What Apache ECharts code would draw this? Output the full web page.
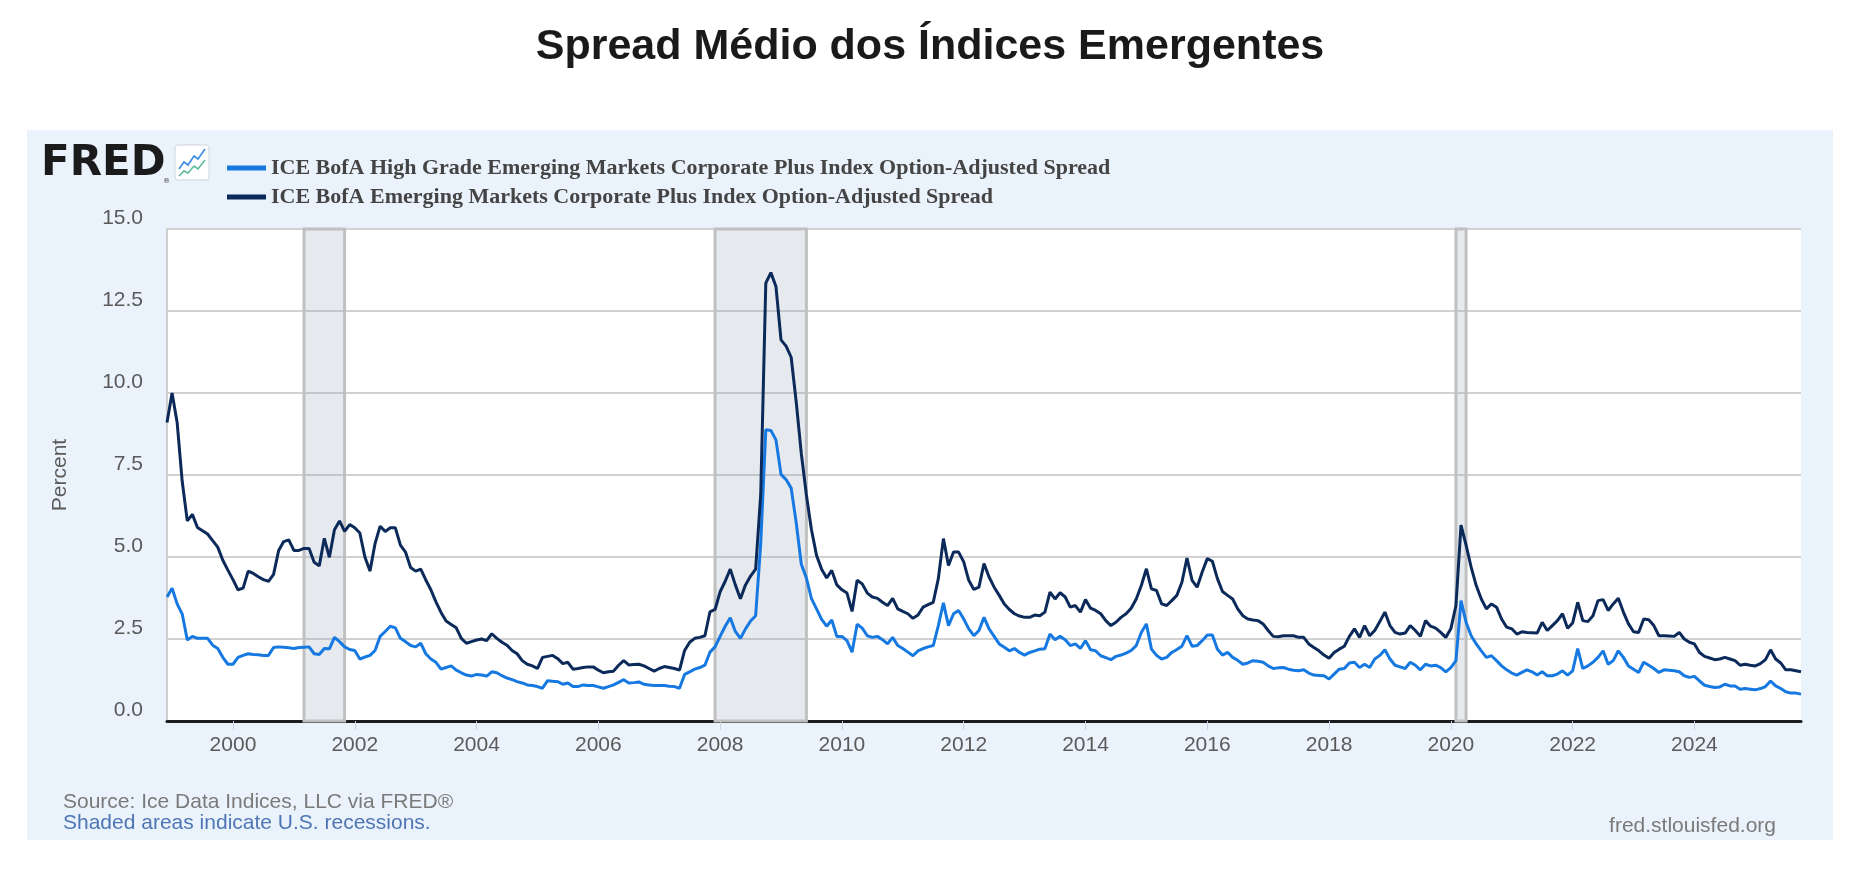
<!DOCTYPE html>
<html>
<head>
<meta charset="utf-8">
<title>Spread Médio dos Índices Emergentes</title>
<script src="https://cdn.jsdelivr.net/npm/echarts@6/dist/echarts.min.js"></script>
<style>
    html, body { margin: 0; padding: 0; background: #fff; }
    #chart { width: 1860px; height: 870px; }
</style>
</head>
<body>
<div id="chart"></div>
<script>
// monthly series, first point = Dec 1998
const startYear = 1998;
const startMonth = 12;

// ICE BofA High Grade Emerging Markets Corporate Plus Index OAS
const hgSpread = [
    3.78,
    4.05, 3.57, 3.26, 2.47, 2.58, 2.52, 2.52, 2.52, 2.31, 2.21, 1.94, 1.73,  // 1999
    1.73, 1.94, 2.0, 2.05, 2.03, 2.02, 2.0, 2.0, 2.24, 2.26, 2.25, 2.23,     // 2000
    2.21, 2.24, 2.25, 2.26, 2.05, 2.03, 2.21, 2.2, 2.55, 2.42, 2.26, 2.18,   // 2001
    2.15, 1.89, 1.95, 2.0, 2.15, 2.58, 2.73, 2.89, 2.84, 2.52, 2.42, 2.3,    // 2002
    2.26, 2.37, 2.05, 1.89, 1.79, 1.58, 1.63, 1.68, 1.55, 1.47, 1.4, 1.37,   // 2003
    1.42, 1.4, 1.37, 1.5, 1.47, 1.38, 1.31, 1.26, 1.2, 1.16, 1.1, 1.08,      // 2004
    1.05, 1.0, 1.23, 1.21, 1.2, 1.12, 1.16, 1.05, 1.05, 1.1, 1.08, 1.08,     // 2005
    1.04, 1.0, 1.05, 1.1, 1.18, 1.26, 1.16, 1.17, 1.19, 1.12, 1.1, 1.08,     // 2006
    1.08, 1.08, 1.06, 1.05, 1.0, 1.42, 1.5, 1.58, 1.63, 1.7, 2.1, 2.26,      // 2007
    2.58, 2.89, 3.15, 2.73, 2.52, 2.81, 3.05, 3.21, 5.41, 8.88, 8.86, 8.57,  // 2008
    7.52, 7.36, 7.1, 6.04, 4.78, 4.36, 3.73, 3.42, 3.1, 2.89, 3.08, 2.58,    // 2009
    2.58, 2.45, 2.1, 2.95, 2.83, 2.6, 2.55, 2.58, 2.48, 2.35, 2.55, 2.3,     // 2010
    2.21, 2.1, 1.99, 2.14, 2.21, 2.26, 2.3, 2.91, 3.6, 2.91, 3.27, 3.37,     // 2011
    3.11, 2.81, 2.6, 2.76, 3.16, 2.81, 2.58, 2.35, 2.25, 2.14, 2.21, 2.09,   // 2012
    2.01, 2.09, 2.14, 2.19, 2.2, 2.65, 2.48, 2.58, 2.48, 2.3, 2.35, 2.21,    // 2013
    2.45, 2.17, 2.14, 1.99, 1.93, 1.87, 1.97, 2.01, 2.07, 2.15, 2.3, 2.7,    // 2014
    2.96, 2.19, 2.0, 1.89, 1.94, 2.09, 2.18, 2.28, 2.6, 2.28, 2.3, 2.45,     // 2015
    2.62, 2.62, 2.19, 2.01, 2.09, 1.94, 1.85, 1.73, 1.77, 1.84, 1.82, 1.79,  // 2016
    1.68, 1.6, 1.62, 1.63, 1.58, 1.55, 1.53, 1.56, 1.46, 1.4, 1.39, 1.38,    // 2017
    1.28, 1.43, 1.58, 1.6, 1.77, 1.79, 1.63, 1.73, 1.63, 1.89, 2.0, 2.17,    // 2018
    1.89, 1.7, 1.65, 1.6, 1.79, 1.7, 1.56, 1.73, 1.68, 1.7, 1.63, 1.5,       // 2019
    1.63, 1.84, 3.67, 3.01, 2.6, 2.35, 2.14, 1.94, 1.99, 1.84, 1.68, 1.56,   // 2020
    1.46, 1.4, 1.48, 1.56, 1.5, 1.4, 1.5, 1.38, 1.38, 1.43, 1.53, 1.4,       // 2021
    1.53, 2.21, 1.6, 1.68, 1.79, 1.94, 2.14, 1.73, 1.84, 2.14, 1.94, 1.68,   // 2022
    1.58, 1.48, 1.79, 1.7, 1.6, 1.48, 1.56, 1.55, 1.53, 1.5, 1.38, 1.33,     // 2023
    1.36, 1.22, 1.09, 1.05, 1.02, 1.04, 1.12, 1.07, 1.07, 0.97, 0.99, 0.97,  // 2024
    0.95, 0.99, 1.05, 1.22, 1.07, 0.99, 0.89, 0.85, 0.85, 0.82               // 2025
];

// ICE BofA Emerging Markets Corporate Plus Index OAS
const emSpread = [
    9.1,
    10.0, 9.1, 7.3, 6.1, 6.3, 5.9, 5.8, 5.7, 5.5, 5.3, 4.9, 4.6,                 // 1999
    4.31, 4.0, 4.05, 4.57, 4.5, 4.4, 4.31, 4.26, 4.47, 5.2, 5.47, 5.52,          // 2000
    5.2, 5.2, 5.26, 5.26, 4.84, 4.73, 5.57, 4.99, 5.83, 6.1, 5.78, 5.99,         // 2001
    5.89, 5.73, 5.0, 4.57, 5.41, 5.94, 5.78, 5.89, 5.89, 5.36, 5.15, 4.68,       // 2002
    4.57, 4.63, 4.3, 4.0, 3.63, 3.31, 3.05, 2.94, 2.84, 2.52, 2.37, 2.42,        // 2003
    2.47, 2.5, 2.45, 2.66, 2.52, 2.4, 2.31, 2.15, 2.05, 1.84, 1.73, 1.68,        // 2004
    1.6, 1.94, 1.97, 2.0, 1.9, 1.75, 1.79, 1.58, 1.6, 1.63, 1.65, 1.65,          // 2005
    1.55, 1.47, 1.5, 1.52, 1.7, 1.84, 1.71, 1.72, 1.73, 1.68, 1.6, 1.52,         // 2006
    1.6, 1.66, 1.63, 1.6, 1.55, 2.15, 2.4, 2.52, 2.55, 2.6, 3.33, 3.4,           // 2007
    3.94, 4.26, 4.63, 4.15, 3.73, 4.15, 4.42, 4.63, 6.9, 13.35, 13.67, 13.25,    // 2008
    11.62, 11.43, 11.09, 9.72, 8.15, 6.89, 5.83, 5.05, 4.63, 4.36, 4.59, 4.15,   // 2009
    4.0, 3.9, 3.34, 4.29, 4.18, 3.9, 3.78, 3.74, 3.62, 3.52, 3.74, 3.42,         // 2010
    3.34, 3.27, 3.13, 3.23, 3.47, 3.55, 3.62, 4.34, 5.56, 4.74, 5.15, 5.15,      // 2011
    4.85, 4.29, 4.01, 4.08, 4.8, 4.39, 4.08, 3.83, 3.57, 3.4, 3.27, 3.2,         // 2012
    3.16, 3.16, 3.23, 3.21, 3.32, 3.93, 3.72, 3.91, 3.78, 3.47, 3.52, 3.32,      // 2013
    3.7, 3.44, 3.37, 3.27, 3.06, 2.91, 3.01, 3.16, 3.27, 3.44, 3.72, 4.13,       // 2014
    4.64, 4.03, 3.98, 3.57, 3.52, 3.67, 3.83, 4.23, 4.97, 4.29, 4.08, 4.54,      // 2015
    4.95, 4.87, 4.34, 3.95, 3.83, 3.72, 3.42, 3.21, 3.11, 3.08, 3.06, 2.96,      // 2016
    2.76, 2.58, 2.57, 2.6, 2.6, 2.6, 2.55, 2.55, 2.35, 2.24, 2.14, 2.01,         // 2017
    1.91, 2.09, 2.19, 2.28, 2.58, 2.81, 2.55, 2.91, 2.6, 2.76, 3.03, 3.32,       // 2018
    2.91, 2.7, 2.65, 2.68, 2.91, 2.76, 2.58, 3.06, 2.89, 2.83, 2.7, 2.55,        // 2019
    2.81, 3.52, 5.97, 5.36, 4.69, 4.13, 3.72, 3.42, 3.57, 3.47, 3.11, 2.86,      // 2020
    2.81, 2.65, 2.72, 2.7, 2.69, 2.68, 3.01, 2.76, 2.91, 3.06, 3.27, 2.83,       // 2021
    2.99, 3.62, 3.06, 3.03, 3.21, 3.67, 3.7, 3.37, 3.57, 3.74, 3.32, 2.96,       // 2022
    2.72, 2.7, 3.11, 3.09, 2.91, 2.6, 2.6, 2.59, 2.58, 2.7, 2.5, 2.4,            // 2023
    2.35, 2.09, 1.97, 1.92, 1.87, 1.89, 1.94, 1.89, 1.84, 1.7, 1.73, 1.7,        // 2024
    1.68, 1.75, 1.87, 2.17, 1.89, 1.77, 1.56, 1.56, 1.53, 1.5                    // 2025
];

const seriesNames = [
    'ICE BofA High Grade Emerging Markets Corporate Plus Index Option-Adjusted Spread',
    'ICE BofA Emerging Markets Corporate Plus Index Option-Adjusted Spread'
];
const yearTicks = [2000, 2002, 2004, 2006, 2008, 2010, 2012, 2014, 2016, 2018, 2020, 2022, 2024];
// US recessions [start, end] as [year, month]
const recessions = [
    [[2001, 3], [2001, 11]],
    [[2007, 12], [2009, 6]],
    [[2020, 2], [2020, 4]]
];

(function () {
    const toYear = (y, m) => y + (m - 1) / 12;
    const xAt = i => toYear(startYear, startMonth + i);
    const hgData = hgSpread.map((v, i) => [xAt(i), v]);
    const emData = emSpread.map((v, i) => [xAt(i), v]);
    const xMin = xAt(0);
    const xMax = xAt(hgSpread.length - 1);

    const txt = '#5a5a5a';
    let myChart = echarts.init(document.getElementById('chart'));
    let option = {
        animation: false,
        backgroundColor: '#fff',
        title: {
            text: 'Spread Médio dos Índices Emergentes',
            left: 'center',
            top: 21,
            textStyle: {
                fontFamily: 'Liberation Sans',
                fontSize: 43,
                fontWeight: 'bold',
                color: '#1a1a1a'
            }
        },
        legend: {
            orient: 'vertical',
            left: 222,
            top: 152,
            icon: 'rect',
            itemWidth: 39,
            itemHeight: 5,
            itemGap: 7,
            selectedMode: false,
            data: seriesNames,
            textStyle: {
                fontFamily: 'Liberation Serif',
                fontWeight: 'bold',
                fontSize: 22,
                lineHeight: 20,
                color: '#444'
            }
        },
        grid: {
            left: 167,
            right: 59,
            top: 229,
            bottom: 149,
            show: true,
            backgroundColor: '#fff',
            borderWidth: 0
        },
        xAxis: {
            type: 'value',
            min: xMin,
            max: xMax,
            splitLine: { show: false },
            axisLine: {
                show: true,
                onZero: false,
                lineStyle: { color: '#1c1c1c', width: 3 }
            },
            axisTick: {
                show: true,
                customValues: yearTicks,
                length: 9,
                lineStyle: { color: '#c7d5e8', width: 1 }
            },
            axisLabel: {
                customValues: yearTicks,
                formatter: v => String(Math.round(v)),
                color: txt,
                fontFamily: 'Liberation Sans',
                fontSize: 21,
                margin: 14
            }
        },
        yAxis: {
            type: 'value',
            min: 0,
            max: 15,
            interval: 2.5,
            name: 'Percent',
            nameLocation: 'middle',
            nameRotate: 90,
            nameGap: 96,
            nameTextStyle: {
                color: txt,
                fontFamily: 'Liberation Sans',
                fontSize: 21
            },
            axisLine: {
                show: true,
                lineStyle: { color: '#cfcfcf', width: 2 }
            },
            axisTick: { show: false },
            axisLabel: {
                formatter: v => v.toFixed(1),
                verticalAlign: 'bottom',
                color: txt,
                fontFamily: 'Liberation Sans',
                fontSize: 21,
                margin: 24
            },
            splitLine: {
                lineStyle: { color: '#d2d2d2', width: 2 }
            }
        },
        graphic: [
            {
                type: 'rect',
                z: -10,
                shape: { x: 27, y: 130, width: 1806, height: 710 },
                style: { fill: '#eaf2fb' }
            },
            {
                type: 'text',
                x: 41, y: 164,
                style: {
                    text: 'FRED',
                    font: 'bold 42px "DejaVu Sans"',
                    fill: '#1b1b1b',
                    verticalAlign: 'middle'
                }
            },
            {
                type: 'text',
                x: 163, y: 178,
                style: { text: '®', font: '7px "DejaVu Sans"', fill: '#444' }
            },
            {
                type: 'rect',
                shape: { x: 175, y: 145, width: 34, height: 35, r: 3 },
                style: { fill: '#fff', stroke: '#cfd4da', lineWidth: 1 }
            },
            {
                type: 'polyline',
                shape: { points: [[179, 169], [184, 162], [188, 165], [194, 156], [198, 159], [205, 149]] },
                style: { stroke: '#3b8fe2', lineWidth: 1.6, fill: null }
            },
            {
                type: 'polyline',
                shape: { points: [[179, 176], [184, 171], [188, 173], [194, 166], [198, 169], [205, 160]] },
                style: { stroke: '#5dbb9c', lineWidth: 1.6, fill: null }
            },
            {
                type: 'text',
                x: 63, y: 802,
                style: {
                    text: 'Source: Ice Data Indices, LLC via FRED®',
                    font: '21px "Liberation Sans"',
                    fill: '#7a7a7a',
                    verticalAlign: 'middle'
                }
            },
            {
                type: 'text',
                x: 63, y: 823,
                style: {
                    text: 'Shaded areas indicate U.S. recessions.',
                    font: '21px "Liberation Sans"',
                    fill: '#4f76b4',
                    verticalAlign: 'middle'
                }
            },
            {
                type: 'text',
                x: 1776, y: 826,
                style: {
                    text: 'fred.stlouisfed.org',
                    font: '21px "Liberation Sans"',
                    fill: '#7a7a7a',
                    align: 'right',
                    verticalAlign: 'middle'
                }
            }
        ],
        series: [
            {
                name: seriesNames[0],
                type: 'line',
                data: hgData,
                showSymbol: false,
                color: '#1679e1',
                lineStyle: { width: 3, color: '#1679e1' },
                markArea: {
                    silent: true,
                    itemStyle: {
                        color: 'rgba(150,164,184,0.24)',
                        borderColor: '#c0c0c0',
                        borderWidth: 3
                    },
                    data: recessions.map(r => [
                        { xAxis: toYear(r[0][0], r[0][1]) },
                        { xAxis: toYear(r[1][0], r[1][1]) }
                    ])
                }
            },
            {
                name: seriesNames[1],
                type: 'line',
                data: emData,
                showSymbol: false,
                color: '#0b2a5a',
                lineStyle: { width: 3, color: '#0b2a5a' }
            }
        ]
    };
    myChart.setOption(option);
})()
</script>
</body>
</html>
